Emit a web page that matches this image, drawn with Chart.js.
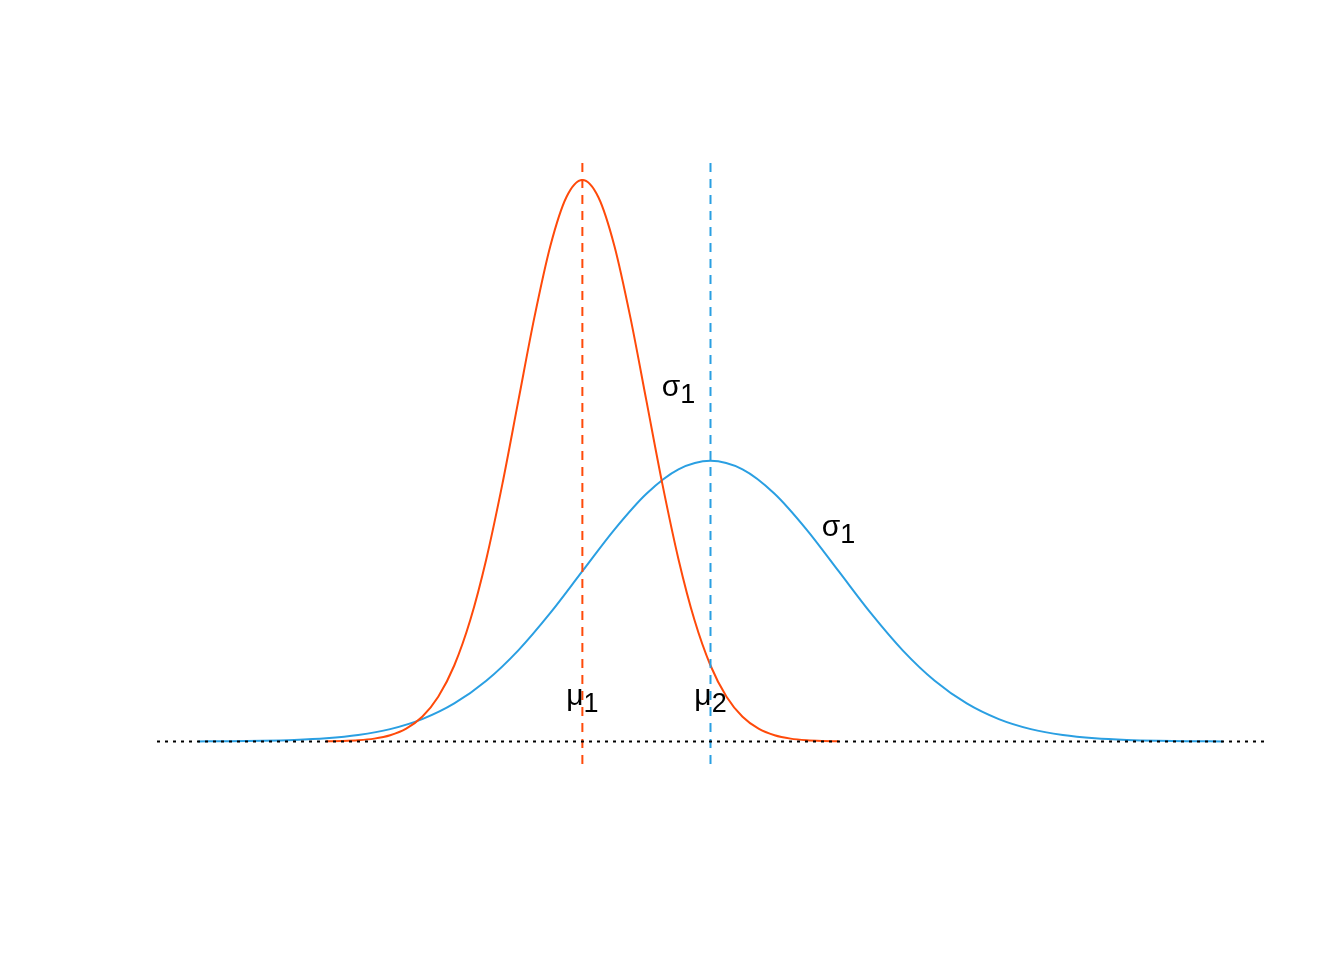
<!DOCTYPE html>
<html>
<head>
<meta charset="utf-8">
<script src="https://cdn.jsdelivr.net/npm/chart.js@4/dist/chart.umd.min.js"></script>
<style>
  html, body { margin: 0; padding: 0; background: #fff; }
  #wrap { width: 1344px; height: 960px; }
</style>
</head>
<body>
<div id="wrap"><canvas id="densChart" width="1344" height="960"></canvas></div>
<script>
// curve 1: mu1 = 0, sigma1 = 1
var redX = [-4, -3.75, -3.5, -3.25, -3, -2.75, -2.5, -2.25, -2, -1.75, -1.5, -1.25, -1, -0.75, -0.5, -0.25,
            0, 0.25, 0.5, 0.75, 1, 1.25, 1.5, 1.75, 2, 2.25, 2.5, 2.75, 3, 3.25, 3.5, 3.75, 4];
var redY = [0.00013, 0.00035, 0.00087, 0.00203, 0.00443, 0.00909, 0.01753, 0.03174, 0.05399, 0.08628,
            0.12952, 0.18265, 0.24197, 0.30114, 0.35207, 0.38667, 0.39894, 0.38667, 0.35207, 0.30114,
            0.24197, 0.18265, 0.12952, 0.08628, 0.05399, 0.03174, 0.01753, 0.00909, 0.00443, 0.00203,
            0.00087, 0.00035, 0.00013];

// curve 2: mu2 = 2, sigma = 2
var blueX = [-6, -5.5, -5, -4.5, -4, -3.5, -3, -2.5, -2, -1.5, -1, -0.5, 0, 0.5, 1, 1.5,
             2, 2.5, 3, 3.5, 4, 4.5, 5, 5.5, 6, 6.5, 7, 7.5, 8, 8.5, 9, 9.5, 10];
var blueY = [0.00007, 0.00018, 0.00044, 0.00102, 0.00222, 0.00455, 0.00876, 0.01587, 0.02700, 0.04314,
             0.06476, 0.09133, 0.12099, 0.15057, 0.17603, 0.19334, 0.19947, 0.19334, 0.17603, 0.15057,
             0.12099, 0.09133, 0.06476, 0.04314, 0.02700, 0.01587, 0.00876, 0.00455, 0.00222, 0.00102,
             0.00044, 0.00018, 0.00007];

var means = [0, 2];
var xRange = [-6.64, 10.64];
var yRange = [-0.016, 0.416];
var vlineTop = 0.411;

// annotations: main symbol, subscript, x, y
var labelMain = ['σ', 'σ', 'μ', 'μ'];
var labelSub = ['1', '1', '1', '2'];
var labelX = [1.5, 4, 0, 2];
var labelY = [0.25, 0.15, 0.03, 0.03];

var redCol = '#ff4a0a';
var blueCol = '#2a9fe2';

function pts(xs, ys) {
  return xs.map(function (x, i) { return { x: x, y: ys[i] }; });
}

var labelPlugin = {
  id: 'mathLabels',
  afterDatasetsDraw: function (chart) {
    var ctx = chart.ctx;
    var xs = chart.scales.x, ys = chart.scales.y;
    ctx.save();
    ctx.fillStyle = '#000';
    ctx.textBaseline = 'alphabetic';
    ctx.textAlign = 'left';
    for (var i = 0; i < labelMain.length; i++) {
      var cx = xs.getPixelForValue(labelX[i]);
      var cy = ys.getPixelForValue(labelY[i]);
      ctx.font = '30px "Liberation Sans", Arial, sans-serif';
      var w1 = ctx.measureText(labelMain[i]).width;
      ctx.font = '27px "Liberation Sans", Arial, sans-serif';
      var w2 = ctx.measureText(labelSub[i]).width;
      var left = cx - (w1 + w2) / 2;
      ctx.font = '30px "Liberation Sans", Arial, sans-serif';
      ctx.fillText(labelMain[i], left, cy + 6);
      ctx.font = '27px "Liberation Sans", Arial, sans-serif';
      ctx.fillText(labelSub[i], left + w1, cy + 13);
    }
    ctx.restore();
  }
};

var chart = new Chart(document.getElementById('densChart'), {
  type: 'line',
  data: {
    datasets: [{
      label: 'zero',
      data: [{ x: xRange[0], y: 0 }, { x: xRange[1], y: 0 }],
      borderColor: '#000',
      borderWidth: 2,
      borderDash: [3, 5],
      pointRadius: 0,
      order: 1
    }, {
      label: 'mu1',
      data: [{ x: means[0], y: yRange[0] }, { x: means[0], y: vlineTop }],
      borderColor: redCol,
      borderWidth: 2,
      borderDash: [9, 7],
      pointRadius: 0,
      order: 1
    }, {
      label: 'mu2',
      data: [{ x: means[1], y: yRange[0] }, { x: means[1], y: vlineTop }],
      borderColor: blueCol,
      borderWidth: 2,
      borderDash: [9, 7],
      pointRadius: 0,
      order: 1
    }, {
      label: 'curve1',
      data: pts(redX, redY),
      borderColor: redCol,
      borderWidth: 2,
      pointRadius: 0,
      cubicInterpolationMode: 'monotone',
      order: 2
    }, {
      label: 'curve2',
      data: pts(blueX, blueY),
      borderColor: blueCol,
      borderWidth: 2,
      pointRadius: 0,
      cubicInterpolationMode: 'monotone',
      order: 2
    }]
  },
  options: {
    responsive: false,
    animation: false,
    layout: { padding: { left: 157, right: 80, top: 156, bottom: 196 } },
    plugins: { legend: { display: false }, title: { display: false }, tooltip: { enabled: false } },
    scales: {
      x: { type: 'linear', min: xRange[0], max: xRange[1], display: false },
      y: { type: 'linear', min: yRange[0], max: yRange[1], display: false }
    }
  },
  plugins: [labelPlugin]
});
</script>
</body>
</html>
